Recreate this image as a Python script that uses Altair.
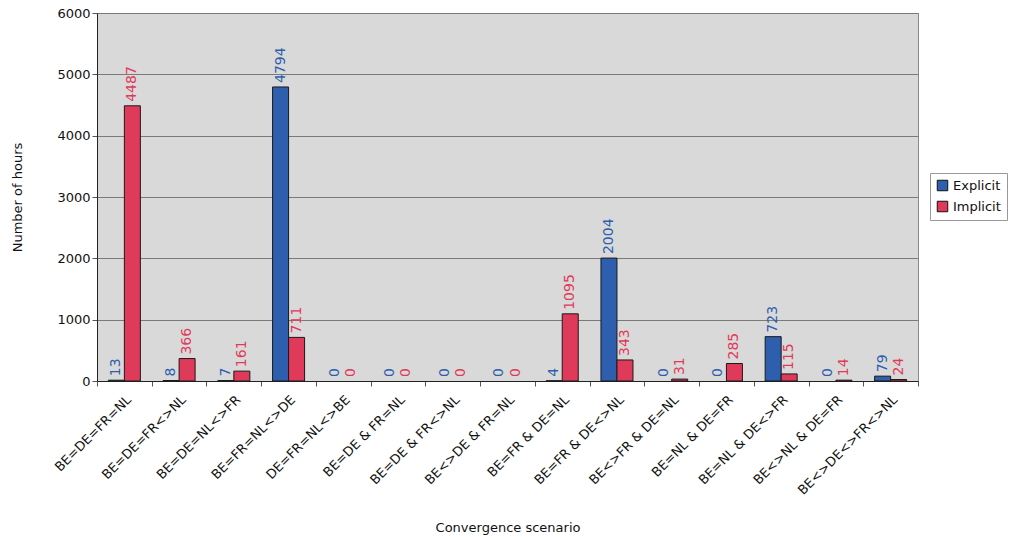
import altair as alt
import pandas as pd

scenarios = [
    "BE=DE=FR=NL", "BE=DE=FR<>NL", "BE=DE=NL<>FR", "BE=FR=NL<>DE",
    "DE=FR=NL<>BE", "BE=DE & FR=NL", "BE=DE & FR<>NL", "BE<>DE & FR=NL",
    "BE=FR & DE=NL", "BE=FR & DE<>NL", "BE<>FR & DE=NL", "BE=NL & DE=FR",
    "BE=NL & DE<>FR", "BE<>NL & DE=FR", "BE<>DE<>FR<>NL",
]
explicit = [13, 8, 7, 4794, 0, 0, 0, 0, 4, 2004, 0, 0, 723, 0, 79]
implicit = [4487, 366, 161, 711, 0, 0, 0, 0, 1095, 343, 31, 285, 115, 14, 24]
series = ["Explicit", "Implicit"]
colors = ["#2d5fae", "#e03a5a"]

rows = []
for s, e, i in zip(scenarios, explicit, implicit):
    rows.append({"scenario": s, "method": "Explicit", "hours": e})
    rows.append({"scenario": s, "method": "Implicit", "hours": i})
df = pd.DataFrame(rows)

FONT = "DejaVu Sans"

x = alt.X(
    "scenario:N", sort=scenarios, title="Convergence scenario",
    scale=alt.Scale(paddingInner=0, paddingOuter=0),
    axis=alt.Axis(labelAngle=-45, labelAlign="right", labelBaseline="top",
                  labelFontSize=13, labelColor="#111", labelFont=FONT,
                  tickBand="extent", tickColor="#555", tickSize=5,
                  domainColor="#222", titleFontSize=13, titleFont=FONT,
                  titleColor="#111", titleFontWeight="normal", titlePadding=24,
                  labelPadding=7),
)
xoff = alt.XOffset("method:N", sort=series,
                   scale=alt.Scale(paddingInner=0, paddingOuter=0.71))
color = alt.Color("method:N", sort=series,
                  scale=alt.Scale(domain=series, range=colors),
                  legend=alt.Legend(title=None, orient="none", legendX=833,
                                    legendY=160, symbolType="square",
                                    symbolSize=110, symbolStrokeColor="#111",
                                    symbolStrokeWidth=1, labelFontSize=13,
                                    labelFont=FONT, labelColor="#111",
                                    fillColor="white", strokeColor="#999",
                                    padding=6, rowPadding=6))

y = alt.Y("hours:Q", title="Number of hours",
          scale=alt.Scale(domain=[0, 6000], nice=False),
          axis=alt.Axis(values=[0, 1000, 2000, 3000, 4000, 5000, 6000],
                        format="d",
                        labelFontSize=13, labelFont=FONT, labelColor="#111",
                        gridColor="#7a7a7a", gridWidth=1, domainColor="#222",
                        tickColor="#555", tickSize=5, titleFontSize=13,
                        titleFont=FONT, titleColor="#111",
                        titleFontWeight="normal", titlePadding=32))

# zero-hour entries get a label but no bar
bars = alt.Chart(df).transform_filter("datum.hours > 0").mark_bar(
    stroke="#1a1a1a", strokeWidth=1
).encode(x=x, xOffset=xoff, y=y, color=color)

labels = alt.Chart(df).mark_text(
    angle=270, align="left", baseline="middle", dx=4, fontSize=14, font=FONT
).encode(
    x=x, xOffset=xoff, y=y, text="hours:Q",
    color=alt.Color("method:N", sort=series,
                    scale=alt.Scale(domain=series, range=colors), legend=None),
)

chart = (
    alt.layer(bars, labels)
    .properties(width=821, height=368,
                autosize=alt.AutoSizeParams(type="none"),
                padding={"left": 97, "top": 13, "right": 93, "bottom": 156},
                background="white")
    .configure_view(fill="#d9d9d9", stroke="#8a8a8a", strokeWidth=1)
)

chart.save("out.html", embed_options={"renderer": "svg", "actions": False})
